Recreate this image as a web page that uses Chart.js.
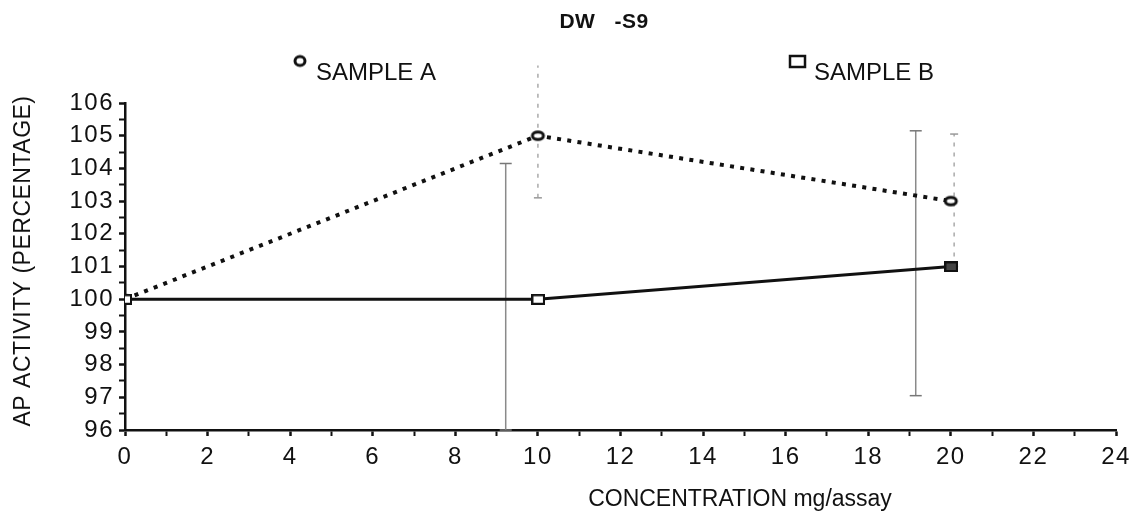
<!DOCTYPE html>
<html>
<head>
<meta charset="utf-8">
<script src="https://cdn.jsdelivr.net/npm/chart.js@4/dist/chart.umd.min.js"></script>
<style>
  html, body { margin: 0; padding: 0; background: #ffffff; }
  #wrap { width: 1139px; height: 519px; }
</style>
</head>
<body>
<div id="wrap"><canvas id="c" width="1139" height="519"></canvas></div>
<script>
// ---- Data ----
const chartTitle = 'DW   -S9';
const xAxisTitle = 'CONCENTRATION mg/assay';
const yAxisTitle = 'AP ACTIVITY (PERCENTAGE)';
const seriesNames = ['SAMPLE A', 'SAMPLE B'];

const concentrations = [0, 10, 20];
const sampleA = [100, 105, 103];
const sampleB = [100, 100, 101];

// error bars (x position, low, high) as drawn in the reference
const errAx = [10.0, 20.08];
const errALow = [103.1, 101.0];
const errAHigh = [107.15, 105.05];
const errBx = [9.22, 19.15];
const errBLow = [96.0, 97.05];
const errBHigh = [104.15, 105.15];

const xMin = 0, xMax = 24, xStep = 1;
const yMin = 96, yMax = 106, yStep = 0.5;

// ---- Marker images ----
function ellipseMarker(w, h, lw) {
  const c = document.createElement('canvas');
  c.width = w + lw * 2; c.height = h + lw * 2;
  const g = c.getContext('2d');
  g.beginPath();
  g.ellipse(c.width / 2, c.height / 2, w / 2, h / 2, 0, 0, Math.PI * 2);
  g.fillStyle = '#fff'; g.fill();
  g.lineWidth = lw; g.strokeStyle = '#111'; g.stroke();
  return c;
}
function rectMarker(w, h, lw, fill) {
  const c = document.createElement('canvas');
  c.width = w + lw; c.height = h + lw;
  const g = c.getContext('2d');
  g.fillStyle = fill; g.fillRect(lw / 2, lw / 2, w, h);
  g.lineWidth = lw; g.strokeStyle = '#111'; g.strokeRect(lw / 2, lw / 2, w, h);
  return c;
}
const circA = ellipseMarker(11, 7.5, 3);
const legA = ellipseMarker(10, 9, 3);
const sqB = rectMarker(12, 9, 2.5, '#fff');
const sqBdark = rectMarker(12, 9, 2.5, '#444');

function pts(xs, ys) { return xs.map((x, i) => ({ x: x, y: ys[i] })); }

const datasets = [
  {
    label: seriesNames[1], data: pts(concentrations, sampleB),
    borderColor: '#111', borderWidth: 3, fill: false, tension: 0,
    pointStyle: [sqB, sqB, sqBdark], pointRadius: 6, order: 0
  },
  {
    label: seriesNames[0], data: pts(concentrations, sampleA),
    borderColor: '#111', borderWidth: 4, borderDash: [4, 6.3], borderCapStyle: 'butt',
    fill: false, tension: 0, pointStyle: circA, pointRadius: 6, order: 1
  }
];
errAx.forEach((x, i) => {
  datasets.push({
    label: 'errA' + i, data: [{ x: x, y: errALow[i] }, { x: x, y: errAHigh[i] }],
    borderColor: '#aaa', borderWidth: 1.5, borderDash: [4, 6], fill: false,
    pointStyle: 'line', pointRadius: 4, pointBorderColor: '#999', pointBorderWidth: 1.5,
    clip: false, order: 5
  });
});
errBx.forEach((x, i) => {
  datasets.push({
    label: 'errB' + i, data: [{ x: x, y: errBLow[i] }, { x: x, y: errBHigh[i] }],
    borderColor: '#8a8a8a', borderWidth: 1.5, fill: false,
    pointStyle: 'line', pointRadius: 6, pointBorderColor: '#777', pointBorderWidth: 1.5,
    clip: false, order: 6
  });
});

const FONT = '"Liberation Sans", Arial, Helvetica, sans-serif';

const textPlugin = {
  id: 'texts',
  beforeDraw(chart) {
    chart.ctx.letterSpacing = '1.5px';
  },
  afterDraw(chart) {
    const ctx = chart.ctx;
    ctx.save();
    ctx.fillStyle = '#111';
    // title
    ctx.letterSpacing = '0.5px';
    ctx.font = 'bold 21px ' + FONT;
    ctx.textAlign = 'center'; ctx.textBaseline = 'alphabetic';
    ctx.fillText(chartTitle, 604, 28);
    // legend
    ctx.font = '24px ' + FONT;
    ctx.letterSpacing = '0px';
    ctx.textAlign = 'left';
    ctx.drawImage(legA, 300 - legA.width / 2, 61 - legA.height / 2);
    ctx.fillText(seriesNames[0], 316, 80);
    ctx.lineWidth = 2.5; ctx.strokeStyle = '#111';
    ctx.strokeRect(790, 56, 15, 11);
    ctx.fillText(seriesNames[1], 814, 80);
    // x axis title
    ctx.letterSpacing = '0px';
    ctx.font = '23px ' + FONT;
    ctx.textAlign = 'center';
    ctx.fillText(xAxisTitle, 740, 506);
    // y axis title
    ctx.translate(30, 261);
    ctx.rotate(-Math.PI / 2);
    ctx.font = '23px ' + FONT;
    ctx.letterSpacing = '0.5px';
    ctx.fillText(yAxisTitle, 0, 0);
    ctx.restore();
    ctx.letterSpacing = '0px';
  }
};

new Chart(document.getElementById('c'), {
  type: 'line',
  data: { datasets: datasets },
  options: {
    responsive: false,
    animation: false,
    layout: { padding: { left: 0, right: 23, top: 103, bottom: 0 } },
    plugins: { legend: { display: false }, title: { display: false }, tooltip: { enabled: false } },
    scales: {
      x: {
        type: 'linear', min: xMin, max: xMax,
        ticks: {
          stepSize: xStep, autoSkip: false, maxRotation: 0,
          callback: v => (v % 2 === 0 ? String(v) : ''),
          font: { family: FONT, size: 24 }, color: '#111', padding: 7
        },
        grid: { drawOnChartArea: false, color: '#111', tickLength: 6,
                tickWidth: c => (c.tick && c.tick.value % 2 === 0 ? 2.5 : 2) },
        border: { color: '#111', width: 2.5 },
        afterFit: s => { s.height = 89; }
      },
      y: {
        type: 'linear', min: yMin, max: yMax,
        ticks: {
          stepSize: yStep, autoSkip: false,
          callback: v => (Number.isInteger(v) ? String(v) : ''),
          font: { family: FONT, size: 24 }, color: '#111', padding: 5
        },
        grid: { drawOnChartArea: false, color: '#111', tickLength: 6,
                tickWidth: c => (c.tick && Number.isInteger(c.tick.value) ? 2.5 : 2) },
        border: { color: '#111', width: 2.5 },
        afterFit: s => { s.width = 125; }
      }
    }
  },
  plugins: [textPlugin]
});
</script>
</body>
</html>
